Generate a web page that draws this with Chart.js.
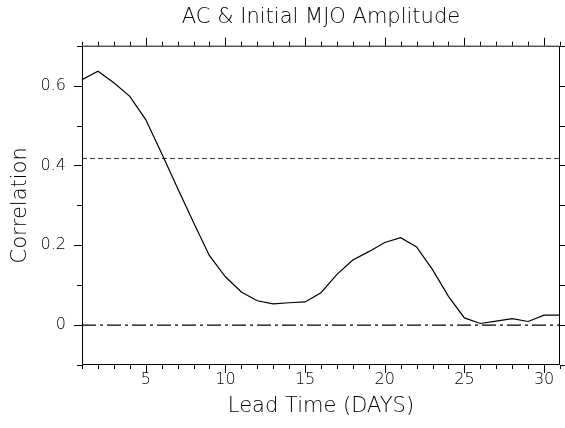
<!DOCTYPE html>
<html>
<head>
<meta charset="utf-8">
<title>AC &amp; Initial MJO Amplitude</title>
<script src="https://cdn.jsdelivr.net/npm/chart.js@4.4.0/dist/chart.umd.min.js"></script>
<style>
  html, body { margin: 0; padding: 0; background: #fff; }
  #chart { display: block; }
</style>
</head>
<body>
<canvas id="chart" width="565" height="428"></canvas>
<script>
// Lead time (days)
const leadDays = [1, 2, 3, 4, 5, 6, 7, 8, 9, 10, 11, 12, 13, 14, 15, 16,
                  17, 18, 19, 20, 21, 22, 23, 24, 25, 26, 27, 28, 29, 30, 31];
// Anomaly correlation vs lead time
const correlation = [0.615, 0.636, 0.607, 0.573, 0.515, 0.430, 0.343, 0.257,
                     0.174, 0.121, 0.083, 0.061, 0.053, 0.056, 0.058, 0.081,
                     0.127, 0.163, 0.184, 0.207, 0.219, 0.196, 0.139, 0.072,
                     0.018, 0.004, 0.010, 0.016, 0.009, 0.025, 0.025];
// Reference levels
const refLevel = 0.4175;
const zeroLevel = 0;
// Labelled ticks
const xTickLabels = [5, 10, 15, 20, 25, 30];
const yTickLabels = [0, 0.2, 0.4, 0.6];

const FONT = "'DejaVu Sans', sans-serif";
const TEXT = '#000';

// Box around the plot with minor / major ticks on all four sides
const frameTicks = {
    id: 'frameTicks',
    afterDatasetsDraw(chart) {
        const { ctx, chartArea: a, scales: { x, y } } = chart;
        ctx.save();
        ctx.strokeStyle = '#000';
        ctx.lineWidth = 1;
        ctx.beginPath();
        ctx.moveTo(a.left + 0.5, a.top + 0.5);
        ctx.lineTo(a.right - 0.5, a.top + 0.5);
        ctx.lineTo(a.right - 0.5, a.bottom - 0.5);
        ctx.lineTo(a.left + 0.5, a.bottom - 0.5);
        ctx.closePath();

        for (let d = leadDays[0]; d <= leadDays[leadDays.length - 1]; d++) {
            const px = Math.round(x.getPixelForValue(d)) + 0.5;
            const len = d % 5 === 0 ? 8 : 4;
            ctx.moveTo(px, a.bottom);
            ctx.lineTo(px, a.bottom + len);
            ctx.moveTo(px, a.top);
            ctx.lineTo(px, a.top - len);
        }
        for (let k = -1; k <= 7; k++) {
            const py = Math.round(y.getPixelForValue(k / 10)) + 0.5;
            const len = k % 2 === 0 ? 8 : 5;
            ctx.moveTo(a.left, py);
            ctx.lineTo(a.left - len, py);
            ctx.moveTo(a.right, py);
            ctx.lineTo(a.right + len, py);
        }
        ctx.stroke();
        ctx.restore();
    }
};

const ctx = document.getElementById('chart').getContext('2d');
const first = leadDays[0];
const last = leadDays[leadDays.length - 1];

new Chart(ctx, {
    type: 'line',
    data: {
        datasets: [
            {
                label: 'AC',
                data: leadDays.map((d, i) => ({ x: d, y: correlation[i] })),
                borderColor: '#000',
                borderWidth: 1.2,
                pointRadius: 0,
                tension: 0
            },
            {
                label: 'significance',
                data: [{ x: first, y: refLevel }, { x: last, y: refLevel }],
                borderColor: '#333',
                borderWidth: 1,
                borderDash: [5, 3],
                pointRadius: 0
            },
            {
                label: 'zero',
                data: [{ x: first, y: zeroLevel }, { x: last, y: zeroLevel }],
                borderColor: '#000',
                borderWidth: 1.2,
                borderDash: [14, 4, 3, 4],
                pointRadius: 0
            }
        ]
    },
    options: {
        responsive: false,
        animation: false,
        layout: { padding: { left: 0, right: 4, top: 0, bottom: 0 } },
        plugins: {
            legend: { display: false },
            tooltip: { enabled: false },
            title: {
                display: true,
                fullSize: false, // centre over the plot area, not the canvas
                text: 'AC & Initial MJO Amplitude',
                color: TEXT,
                font: { family: FONT, size: 21, weight: 200 },
                padding: { top: 5, bottom: 15.5 }
            }
        },
        scales: {
            x: {
                type: 'linear',
                min: first,
                max: last,
                grid: { display: false, drawTicks: false },
                border: { display: false },
                afterFit(scale) { scale.height = 63; },
                ticks: {
                    stepSize: 1,
                    autoSkip: false,
                    maxRotation: 0,
                    padding: 5,
                    color: TEXT,
                    font: { family: FONT, size: 16, weight: 200 },
                    callback: v => xTickLabels.includes(v) ? String(v) : ''
                },
                title: {
                    display: true,
                    text: 'Lead Time (DAYS)',
                    color: TEXT,
                    font: { family: FONT, size: 21, weight: 200 },
                    padding: { top: 0, bottom: 9 }
                }
            },
            y: {
                min: -0.1,
                max: 0.7,
                grid: { display: false, drawTicks: false },
                border: { display: false },
                afterFit(scale) { scale.width = 82; },
                ticks: {
                    stepSize: 0.1,
                    padding: 16,
                    color: TEXT,
                    font: { family: FONT, size: 16, weight: 200 },
                    callback: v => {
                        const r = Math.round(v * 10) / 10;
                        return yTickLabels.includes(r) ? String(r) : '';
                    }
                },
                title: {
                    display: true,
                    text: 'Correlation',
                    color: TEXT,
                    font: { family: FONT, size: 21, weight: 200 },
                    padding: { top: 7.5, bottom: 0 }
                }
            }
        }
    },
    plugins: [frameTicks]
});
</script>
</body>
</html>
